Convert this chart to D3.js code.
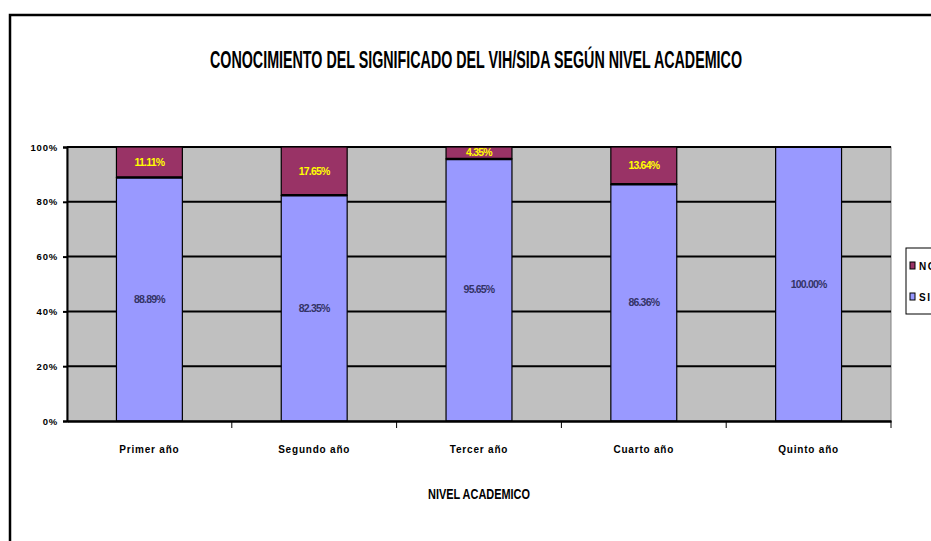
<!DOCTYPE html>
<html>
<head>
<meta charset="utf-8">
<script src="https://cdn.jsdelivr.net/npm/d3@7"></script>
<style>
  body { margin:0; background:#fff; }
  svg text { font-family: "Liberation Sans Narrow", "Liberation Sans", Arial, sans-serif; font-weight:bold; }
</style>
</head>
<body>
<div id="chart"></div>
<script>
var categories = ["Primer año", "Segundo año", "Tercer año", "Cuarto año", "Quinto año"];
var siValues = [88.89, 82.35, 95.65, 86.36, 100.00];
var noValues = [11.11, 17.65, 4.35, 13.64, 0];
var yTicks = [0, 20, 40, 60, 80, 100];
var seriesNames = ["NO", "SI"];

var width = 931, height = 541;
var svg = d3.select("#chart").append("svg").attr("width", width).attr("height", height);

// marco exterior
svg.append("path").attr("d", "M10," + (height + 5) + "V15H" + (width + 5))
  .attr("fill", "none").attr("stroke", "#000").attr("stroke-width", 2.5);

var m = {left:67, right:891, top:147, bottom:421};

var x = d3.scaleBand().domain(categories).range([m.left, m.right]).paddingInner(0).paddingOuter(0);
var y = d3.scaleLinear().domain([0, 100]).range([m.bottom, m.top]);
var color = d3.scaleOrdinal().domain(seriesNames).range(["#993366", "#9999FF"]);

// fondo
svg.append("rect").attr("x", m.left).attr("y", m.top)
  .attr("width", m.right - m.left).attr("height", m.bottom - m.top)
  .attr("fill", "#C0C0C0").attr("stroke", "#808080").attr("stroke-width", 1);

// lineas de division
svg.append("g").selectAll("line").data(yTicks.filter(function(d){ return d > 0; }))
  .enter().append("line")
  .attr("x1", m.left).attr("x2", m.right)
  .attr("y1", function(d){ return y(d); }).attr("y2", function(d){ return y(d); })
  .attr("stroke", "#000").attr("stroke-width", 2);

var rows = categories.map(function(c, i){ return {cat:c, SI:siValues[i], NO:noValues[i]}; });
var stack = d3.stack().keys(["SI", "NO"]);
var layers = stack(rows);

var bw = x.bandwidth() * 0.4;
layers.forEach(function(layer){
  var key = layer.key;
  var g = svg.append("g");
  g.selectAll("rect").data(layer.filter(function(d){ return d[1] - d[0] > 0; }))
    .enter().append("rect")
    .attr("x", function(d){ return x(d.data.cat) + (x.bandwidth() - bw) / 2; })
    .attr("width", bw)
    .attr("y", function(d){ return y(d[1]); })
    .attr("height", function(d){ return y(d[0]) - y(d[1]); })
    .attr("fill", color(key))
    .attr("stroke", "#000").attr("stroke-width", 1.2);
  g.selectAll("text").data(layer.filter(function(d){ return d[1] - d[0] > 0; }))
    .enter().append("text")
    .attr("x", function(d){ return x(d.data.cat) + x.bandwidth() / 2; })
    .attr("y", function(d){ return y((d[0] + d[1]) / 2) + 3.5; })
    .attr("text-anchor", "middle")
    .attr("font-size", 10.5)
    .attr("letter-spacing", -0.8)
    .attr("fill", key === "NO" ? "#FFFF00" : "#333366")
    .text(function(d){ return (d[1] - d[0]).toFixed(2) + "%"; });
});

// linea entre segmentos (mas gruesa)
svg.append("g").selectAll("line").data(rows.filter(function(d){ return d.NO > 0; }))
  .enter().append("line")
  .attr("x1", function(d){ return x(d.cat) + (x.bandwidth() - bw) / 2; })
  .attr("x2", function(d){ return x(d.cat) + (x.bandwidth() + bw) / 2; })
  .attr("y1", function(d){ return y(d.SI); }).attr("y2", function(d){ return y(d.SI); })
  .attr("stroke", "#000").attr("stroke-width", 2.5);
svg.append("line").attr("x1", x(categories[4]) + (x.bandwidth() - bw) / 2)
  .attr("x2", x(categories[4]) + (x.bandwidth() + bw) / 2)
  .attr("y1", y(100)).attr("y2", y(100)).attr("stroke", "#000").attr("stroke-width", 2);

// eje Y
var yAxis = svg.append("g").attr("transform", "translate(" + m.left + ",0)")
  .call(d3.axisLeft(y).tickValues(yTicks).tickSize(4).tickFormat(function(d){ return d + "%"; }));
yAxis.select(".domain").attr("stroke", "#000").attr("stroke-width", 2);
yAxis.selectAll(".tick line").attr("stroke", "#000").attr("stroke-width", 2);
yAxis.selectAll("text").attr("font-size", 9.5).attr("letter-spacing", 0.8).attr("fill", "#000")
  .attr("x", -9).attr("font-family", "Liberation Sans Narrow, Liberation Sans, Arial, sans-serif")
  .attr("font-weight", "bold");

// eje X
var xAxis = svg.append("g").attr("transform", "translate(0," + m.bottom + ")")
  .call(d3.axisBottom(x).tickSize(0).tickPadding(25));
xAxis.select(".domain").attr("stroke", "#000").attr("stroke-width", 2.5);
xAxis.selectAll("text").attr("font-size", 10).attr("letter-spacing", 0.8).attr("fill", "#000")
  .attr("font-family", "Liberation Sans Narrow, Liberation Sans, Arial, sans-serif")
  .attr("font-weight", "bold");
svg.append("g").selectAll("line").data(categories.slice(1))
  .enter().append("line")
  .attr("x1", function(d){ return x(d); }).attr("x2", function(d){ return x(d); })
  .attr("y1", m.bottom).attr("y2", m.bottom + 7)
  .attr("stroke", "#000").attr("stroke-width", 1);
svg.append("line").attr("x1", m.right).attr("x2", m.right)
  .attr("y1", m.bottom).attr("y2", m.bottom + 7).attr("stroke", "#000");

// titulos
svg.append("text").attr("x", 476).attr("y", 68).attr("text-anchor", "middle")
  .attr("font-size", 23).attr("textLength", 532).attr("lengthAdjust", "spacingAndGlyphs")
  .text("CONOCIMIENTO DEL SIGNIFICADO DEL VIH/SIDA SEGÚN NIVEL ACADEMICO");
svg.append("text").attr("x", 479).attr("y", 499).attr("text-anchor", "middle")
  .attr("font-size", 14).attr("textLength", 102).attr("lengthAdjust", "spacingAndGlyphs")
  .text("NIVEL ACADEMICO");

// leyenda
var leg = svg.append("g").attr("transform", "translate(906,248)");
leg.append("rect").attr("width", 40).attr("height", 66).attr("fill", "#fff")
  .attr("stroke", "#000").attr("stroke-width", 1);
var li = leg.selectAll(".li").data(seriesNames).enter().append("g")
  .attr("transform", function(d, i){ return "translate(4," + (14 + i * 31) + ")"; });
li.append("rect").attr("width", 5).attr("height", 7).attr("fill", function(d){ return color(d); })
  .attr("stroke", "#000").attr("stroke-width", 1);
li.append("text").attr("x", 9).attr("y", 7.5).attr("font-size", 10).attr("letter-spacing", 1.5)
  .text(function(d){ return d; });
</script>
</body>
</html>
